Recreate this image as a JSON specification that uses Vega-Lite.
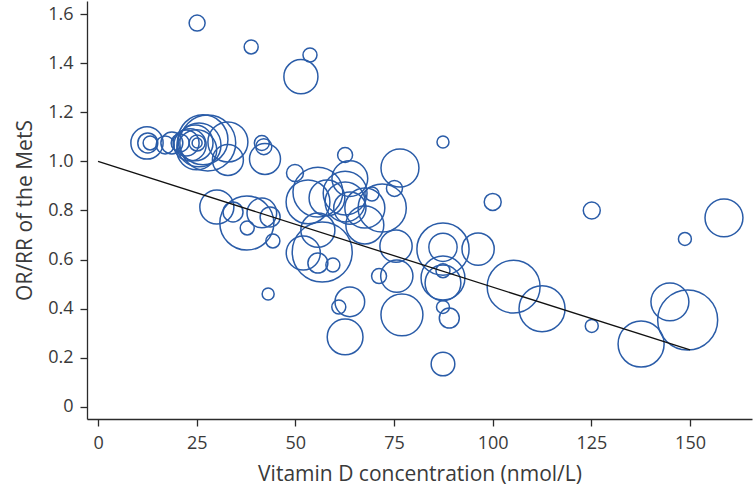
{
  "$schema": "https://vega.github.io/schema/vega-lite/v6.json",
  "width": 665,
  "height": 418,
  "autosize": {"type": "none"},
  "padding": {"left": 87, "top": 1, "right": 1, "bottom": 76},
  "background": "white",
  "config": {
    "view": {"stroke": null},
    "font": "Open Sans",
    "axis": {
      "grid": false,
      "domainColor": "#2b2b2b",
      "tickColor": "#2b2b2b",
      "labelColor": "#3a3a3a",
      "titleColor": "#3a3a3a",
      "labelFont": "Open Sans",
      "titleFont": "Open Sans",
      "labelFontSize": 18,
      "titleFontSize": 21,
      "titleFontWeight": "normal",
      "tickSize": 7,
      "domainWidth": 1.3,
      "tickWidth": 1.3
    }
  },
  "datasets": {
    "studies": [
      {"vitd": 25.1, "or": 1.563, "weight": 0.64},
      {"vitd": 38.8, "or": 1.466, "weight": 0.49},
      {"vitd": 53.7, "or": 1.433, "weight": 0.49},
      {"vitd": 51.4, "or": 1.345, "weight": 2.9},
      {"vitd": 12.4, "or": 1.075, "weight": 2.6},
      {"vitd": 12.6, "or": 1.075, "weight": 1.0},
      {"vitd": 13.2, "or": 1.075, "weight": 0.49},
      {"vitd": 17.0, "or": 1.067, "weight": 0.81},
      {"vitd": 18.7, "or": 1.075, "weight": 1.2},
      {"vitd": 20.8, "or": 1.075, "weight": 0.81},
      {"vitd": 22.3, "or": 1.075, "weight": 1.7},
      {"vitd": 23.3, "or": 1.067, "weight": 2.6},
      {"vitd": 24.6, "or": 1.075, "weight": 3.2},
      {"vitd": 25.1, "or": 1.075, "weight": 0.64},
      {"vitd": 25.1, "or": 1.075, "weight": 0.25},
      {"vitd": 25.6, "or": 1.067, "weight": 4.8},
      {"vitd": 26.6, "or": 1.088, "weight": 6.2},
      {"vitd": 27.8, "or": 1.075, "weight": 7.8},
      {"vitd": 25.0, "or": 1.047, "weight": 4.0},
      {"vitd": 32.9, "or": 1.079, "weight": 4.0},
      {"vitd": 32.9, "or": 1.006, "weight": 2.4},
      {"vitd": 41.5, "or": 1.075, "weight": 0.56},
      {"vitd": 42.0, "or": 1.06, "weight": 0.64},
      {"vitd": 42.3, "or": 1.01, "weight": 2.4},
      {"vitd": 49.9, "or": 0.953, "weight": 0.72},
      {"vitd": 62.6, "or": 1.026, "weight": 0.56},
      {"vitd": 63.8, "or": 0.93, "weight": 3.2},
      {"vitd": 76.5, "or": 0.973, "weight": 3.6},
      {"vitd": 75.1, "or": 0.89, "weight": 0.64},
      {"vitd": 69.4, "or": 0.867, "weight": 0.49},
      {"vitd": 87.4, "or": 1.079, "weight": 0.36},
      {"vitd": 100.0, "or": 0.835, "weight": 0.72},
      {"vitd": 125.1, "or": 0.80, "weight": 0.72},
      {"vitd": 158.6, "or": 0.77, "weight": 3.6},
      {"vitd": 148.7, "or": 0.684, "weight": 0.42},
      {"vitd": 105.3, "or": 0.49, "weight": 7.0},
      {"vitd": 112.5, "or": 0.40, "weight": 5.3},
      {"vitd": 125.1, "or": 0.33, "weight": 0.42},
      {"vitd": 137.6, "or": 0.256, "weight": 5.3},
      {"vitd": 144.9, "or": 0.428, "weight": 3.6},
      {"vitd": 149.4, "or": 0.354, "weight": 9.0},
      {"vitd": 72.0, "or": 0.81, "weight": 5.8},
      {"vitd": 75.5, "or": 0.655, "weight": 2.6},
      {"vitd": 87.4, "or": 0.643, "weight": 6.8},
      {"vitd": 87.4, "or": 0.65, "weight": 2.0},
      {"vitd": 96.3, "or": 0.643, "weight": 2.6},
      {"vitd": 87.4, "or": 0.525, "weight": 4.8},
      {"vitd": 87.4, "or": 0.505, "weight": 3.2},
      {"vitd": 87.4, "or": 0.555, "weight": 0.49},
      {"vitd": 75.7, "or": 0.533, "weight": 2.6},
      {"vitd": 71.2, "or": 0.533, "weight": 0.56},
      {"vitd": 77.0, "or": 0.375, "weight": 4.4},
      {"vitd": 87.4, "or": 0.407, "weight": 0.42},
      {"vitd": 89.0, "or": 0.362, "weight": 1.0},
      {"vitd": 87.4, "or": 0.175, "weight": 1.4},
      {"vitd": 55.7, "or": 0.875, "weight": 6.2},
      {"vitd": 53.2, "or": 0.835, "weight": 4.8},
      {"vitd": 58.0, "or": 0.851, "weight": 3.2},
      {"vitd": 62.6, "or": 0.871, "weight": 4.8},
      {"vitd": 62.6, "or": 0.835, "weight": 4.0},
      {"vitd": 63.8, "or": 0.81, "weight": 2.6},
      {"vitd": 67.6, "or": 0.81, "weight": 4.0},
      {"vitd": 67.6, "or": 0.741, "weight": 3.6},
      {"vitd": 55.7, "or": 0.72, "weight": 2.9},
      {"vitd": 56.8, "or": 0.631, "weight": 9.0},
      {"vitd": 52.0, "or": 0.627, "weight": 2.9},
      {"vitd": 55.7, "or": 0.586, "weight": 1.0},
      {"vitd": 59.5, "or": 0.578, "weight": 0.49},
      {"vitd": 63.8, "or": 0.428, "weight": 2.2},
      {"vitd": 61.0, "or": 0.407, "weight": 0.49},
      {"vitd": 62.6, "or": 0.285, "weight": 3.2},
      {"vitd": 43.1, "or": 0.46, "weight": 0.36},
      {"vitd": 30.1, "or": 0.814, "weight": 2.9},
      {"vitd": 34.2, "or": 0.794, "weight": 1.0},
      {"vitd": 37.7, "or": 0.749, "weight": 7.3},
      {"vitd": 41.5, "or": 0.79, "weight": 2.2},
      {"vitd": 43.6, "or": 0.774, "weight": 1.0},
      {"vitd": 37.8, "or": 0.729, "weight": 0.49},
      {"vitd": 44.3, "or": 0.676, "weight": 0.49}
    ],
    "fit": [
      {"vitd": 0, "or": 1.0},
      {"vitd": 150, "or": 0.232}
    ]
  },
  "layer": [
    {
      "data": {"name": "studies"},
      "mark": {"type": "point", "shape": "circle", "filled": false, "stroke": "#2a5ca8", "strokeWidth": 1.5, "opacity": 1},
      "encoding": {
        "x": {
          "field": "vitd", "type": "quantitative",
          "scale": {"domain": [-2.8, 165.7], "nice": false, "zero": false},
          "axis": {"values": [0, 25, 50, 75, 100, 125, 150], "title": "Vitamin D concentration (nmol/L)", "titlePadding": 11, "labelPadding": 8}
        },
        "y": {
          "field": "or", "type": "quantitative",
          "scale": {"domain": [-0.049, 1.653], "nice": false, "zero": false},
          "axis": {"values": [0, 0.2, 0.4, 0.6, 0.8, 1.0, 1.2, 1.4, 1.6], "labelExpr": "datum.value == 0 ? '0' : format(datum.value, '.1f')", "title": "OR/RR of the MetS", "titlePadding": 12, "labelPadding": 7}
        },
        "size": {
          "field": "weight", "type": "quantitative",
          "scale": {"domain": [0, 9], "range": [0, 3600], "zero": true},
          "legend": null
        }
      }
    },
    {
      "data": {"name": "fit"},
      "mark": {"type": "line", "color": "#111111", "strokeWidth": 1.3},
      "encoding": {
        "x": {"field": "vitd", "type": "quantitative"},
        "y": {"field": "or", "type": "quantitative"}
      }
    }
  ]
}
